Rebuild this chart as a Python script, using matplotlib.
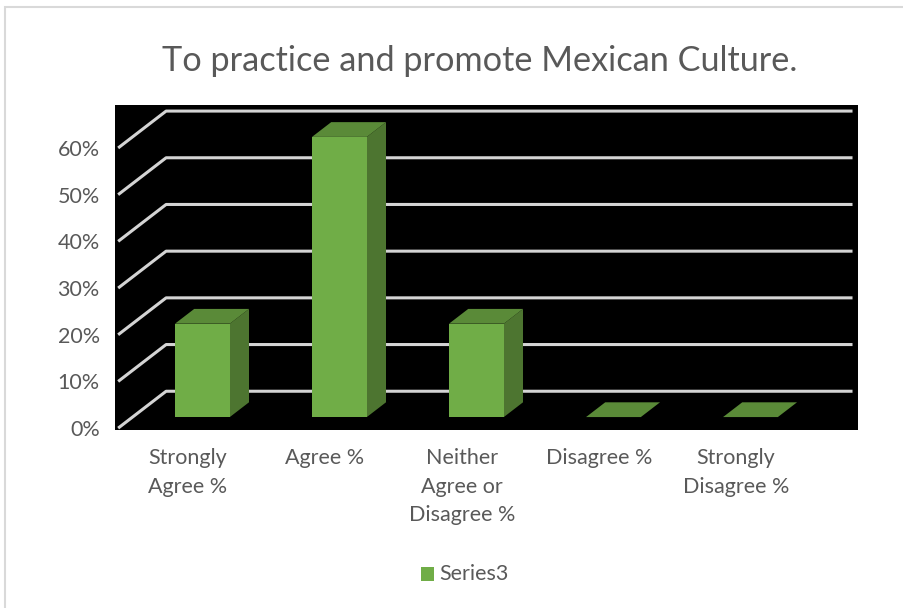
import matplotlib.pyplot as plt
from matplotlib.patches import Polygon, Rectangle

# Datos de la encuesta
categorias = ["Strongly\nAgree %", "Agree %", "Neither\nAgree or\nDisagree %",
              "Disagree %", "Strongly\nDisagree %"]
valores = [0.20, 0.60, 0.20, 0.0, 0.0]
ticks_y = [0.0, 0.1, 0.2, 0.3, 0.4, 0.5, 0.6]
etiquetas_y = ["0%", "10%", "20%", "30%", "40%", "50%", "60%"]
serie = "Series3"
titulo = "To practice and promote Mexican Culture."

# Proyección oblicua: profundidad z en [0, 1]
DX, DY = 0.35, 0.079
ANCHO = 0.40
Z0, Z1 = 0.3, 0.7
BASE_Y = 0.0

VERDE = "#70ad47"
VERDE_TOP = "#5a8a38"
VERDE_LADO = "#4d7530"
GRIS_TEXTO = "#595959"
GRIS_LINEA = "#d4d4d4"

plt.rcParams['font.family'] = ['Lato', 'DejaVu Sans']


def proy(x, y, z):
    return (x + z * DX, y + z * DY)


fig = plt.figure(figsize=(9.04, 6.08), dpi=100)

# Marco exterior del gráfico
fig.patches.append(Rectangle((5 / 904, -0.05), 1.2, 1 - 7 / 608 + 0.05,
                             transform=fig.transFigure, fill=False,
                             edgecolor="#d9d9d9", lw=1.5))

ax = fig.add_axes([115 / 904, 1 - 430 / 608, 743 / 904, 325 / 608])
ax.set_facecolor("black")
ax.set_xlim(-0.533, 4.89)
ax.set_ylim(-0.004, 0.692)
for s in ax.spines.values():
    s.set_visible(False)

# Líneas de cuadrícula: pared lateral (diagonal) y pared del fondo
x_izq, x_der = -0.51, 4.5
for v in ticks_y:
    p0 = proy(x_izq, v, 0)
    p1 = proy(x_izq, v, 1)
    p2 = proy(x_der, v, 1)
    ax.plot([p0[0], p1[0], p2[0]], [p0[1], p1[1], p2[1]],
            color=GRIS_LINEA, lw=2.2, solid_capstyle='butt', zorder=1)

# Columnas 3D
for i, v in enumerate(valores):
    x0 = i - ANCHO / 2
    x1 = i + ANCHO / 2
    y0 = BASE_Y
    y1 = BASE_Y + v
    frente = [proy(x0, y0, Z0), proy(x1, y0, Z0), proy(x1, y1, Z0), proy(x0, y1, Z0)]
    tapa = [proy(x0, y1, Z0), proy(x1, y1, Z0), proy(x1, y1, Z1), proy(x0, y1, Z1)]
    lado = [proy(x1, y0, Z0), proy(x1, y0, Z1), proy(x1, y1, Z1), proy(x1, y1, Z0)]
    ax.add_patch(Polygon(lado, closed=True, facecolor=VERDE_LADO, edgecolor='none', zorder=3))
    ax.add_patch(Polygon(frente, closed=True, facecolor=VERDE, edgecolor='none', zorder=3))
    ax.add_patch(Polygon(tapa, closed=True, facecolor=VERDE_TOP, edgecolor='none', zorder=4))

ax.set_yticks(ticks_y)
ax.set_yticklabels(etiquetas_y)
ax.set_xticks(range(len(categorias)))
ax.set_xticklabels(categorias, linespacing=1.53, va='top')
ax.tick_params(axis='y', length=0, pad=11, labelsize=15.5, labelcolor=GRIS_TEXTO)
ax.tick_params(axis='x', length=0, pad=13, labelsize=15.5, labelcolor=GRIS_TEXTO)

fig.text(480 / 904, 1 - 61 / 608, titulo, ha='center', va='center',
         fontsize=24.7, color=GRIS_TEXTO)

# Leyenda
fig.patches.append(Rectangle((421 / 904, 1 - 581 / 608), 13 / 904, 14 / 608,
                             transform=fig.transFigure, facecolor=VERDE,
                             edgecolor='none'))
fig.text(439 / 904, 1 - 574 / 608, serie, ha='left', va='center',
         fontsize=15.5, color=GRIS_TEXTO)

fig.savefig("out.png", dpi=100, facecolor="white")
